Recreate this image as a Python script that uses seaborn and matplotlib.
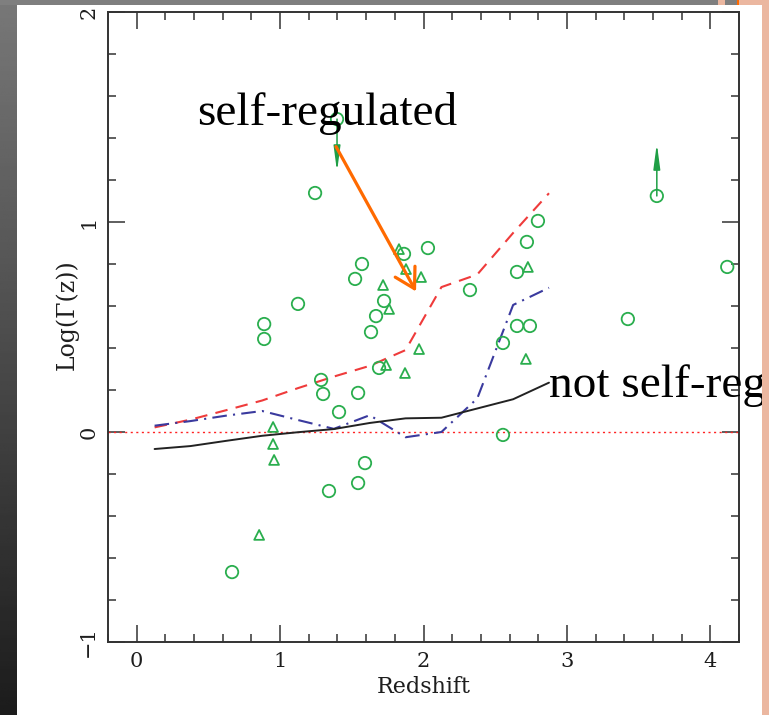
import matplotlib
matplotlib.use("Agg")
import numpy as np
import pandas as pd
import matplotlib.pyplot as plt
from matplotlib.patches import Rectangle
from matplotlib.ticker import MultipleLocator
import seaborn as sns

# Model tracks sampled on a regular redshift grid
z_model = [0.125, 0.375, 0.625, 0.875, 1.125, 1.375, 1.625, 1.875, 2.125, 2.375, 2.625, 2.875]
gamma_selfreg = [0.022, 0.059, 0.104, 0.150, 0.209, 0.264, 0.315, 0.390, 0.690, 0.750, 0.948, 1.137]
gamma_mixed = [0.030, 0.052, 0.078, 0.100, 0.057, 0.015, 0.080, -0.025, 0.000, 0.160, 0.605, 0.687]
gamma_noreg = [-0.081, -0.067, -0.042, -0.018, -0.001, 0.014, 0.043, 0.065, 0.068, 0.112, 0.156, 0.235]

# Observed sources (circles)
circle_z = [0.665, 0.889, 0.889, 1.125, 1.244, 1.286, 1.300, 1.341, 1.411, 1.523,
            1.544, 1.544, 1.571, 1.592, 1.634, 1.669, 1.690, 1.725, 1.864, 2.031,
            2.324, 2.554, 2.554, 2.652, 2.652, 2.721, 2.742, 2.798, 3.425, 4.118]
circle_g = [-0.667, 0.514, 0.443, 0.610, 1.138, 0.248, 0.181, -0.281, 0.095, 0.729,
            -0.243, 0.186, 0.800, -0.148, 0.476, 0.552, 0.305, 0.624, 0.848, 0.876,
            0.676, 0.424, -0.014, 0.762, 0.505, 0.905, 0.505, 1.005, 0.538, 0.786]

# Observed sources (triangles)
tri_z = [0.854, 0.951, 0.951, 0.958, 1.718, 1.739, 1.760, 1.829, 1.871, 1.878, 1.969, 1.983, 2.714, 2.728]
tri_g = [-0.490, 0.024, -0.057, -0.133, 0.700, 0.319, 0.586, 0.871, 0.281, 0.776, 0.395, 0.738, 0.348, 0.786]

# Limits
upper_z, upper_g = [1.397], [1.490]
lower_z, lower_g = [3.627], [1.124]
limit_len = 0.25

x_ticks = [0, 1, 2, 3, 4]
y_ticks = [-1, 0, 1, 2]
y_tick_labels = ["\u22121", "0", "1", "2"]

GREEN = "#2aae4e"
RED = "#ef3b3b"
BLUE = "#3a3a9e"
ORANGE = "#ff6a00"
SALMON = "#ebb7a0"

sns.set_style("ticks")
plt.rcParams["font.family"] = ["DejaVu Serif"]

W, H = 769, 715
fig = plt.figure(figsize=(W / 100, H / 100), dpi=100)
fig.patch.set_facecolor("white")

# Slide backdrop: dark gradient strip on the left, grey band on top
bg = fig.add_axes([0, 0, 1, 1], zorder=-10)
bg.set_xlim(0, W)
bg.set_ylim(H, 0)
bg.axis("off")
grad = np.linspace(0.47, 0.11, 256).reshape(-1, 1)
bg.imshow(grad, cmap="gray", vmin=0, vmax=1, extent=[0, 17, H, 0], aspect="auto")
bg.add_patch(Rectangle((0, 0), 718, 5, color="#7f7f7f", lw=0))
bg.add_patch(Rectangle((718, 0), 7, 5, color=SALMON, lw=0))
bg.add_patch(Rectangle((725, 0), 12, 5, color="#7f7f7f", lw=0))
bg.add_patch(Rectangle((737, 0), 2, 5, color=ORANGE, lw=0))
bg.add_patch(Rectangle((739, 0), 30, 5, color=SALMON, lw=0))

ax = fig.add_axes([108 / W, 1 - 642 / H, (739 - 108) / W, (642 - 12) / H])
ax.set_facecolor("white")

ax.axhline(0, color="#ff2222", lw=1.0, linestyle=(0, (1.5, 2.5)), zorder=1)

sns.lineplot(x=z_model, y=gamma_selfreg, ax=ax, color=RED, lw=1.5,
             linestyle=(0, (6, 4)), zorder=2)
sns.lineplot(x=z_model, y=gamma_mixed, ax=ax, color=BLUE, lw=1.5,
             linestyle=(0, (7, 3, 1, 3)), zorder=2)
sns.lineplot(x=z_model, y=gamma_noreg, ax=ax, color="#222222", lw=1.4, zorder=2)

sns.scatterplot(x=circle_z + upper_z + lower_z, y=circle_g + upper_g + lower_g, ax=ax,
                marker="o", s=80, facecolor="none", edgecolor=GREEN, linewidth=1.3, zorder=3)
sns.scatterplot(x=tri_z, y=tri_g, ax=ax, marker="^", s=50,
                facecolor="none", edgecolor=GREEN, linewidth=1.3, zorder=3)

# Limit arrows
limit_arrow = dict(arrowstyle="-|>,head_length=1.5,head_width=0.2",
                   mutation_scale=10, color="#1f9e45", lw=1.1,
                   shrinkA=0, shrinkB=0)
for zz, gg in zip(upper_z, upper_g):
    ax.annotate("", xy=(zz, gg - limit_len), xytext=(zz, gg),
                arrowprops=limit_arrow, zorder=4)
for zz, gg in zip(lower_z, lower_g):
    ax.annotate("", xy=(zz, gg + limit_len), xytext=(zz, gg),
                arrowprops=limit_arrow, zorder=4)

ax.set_xlim(-0.2, 4.2)
ax.set_ylim(-1, 2)
ax.set_xticks(x_ticks)
ax.set_yticks(y_ticks)
ax.set_yticklabels(y_tick_labels, rotation=90, va="center")
ax.xaxis.set_minor_locator(MultipleLocator(0.2))
ax.yaxis.set_minor_locator(MultipleLocator(0.2))
ax.tick_params(which="both", direction="in", top=True, right=True,
               color="#333333", width=1.1, labelsize=15, labelcolor="#1e1e1e")
ax.tick_params(which="major", length=12.5, pad=7)
ax.tick_params(which="minor", length=6)
for sp in ax.spines.values():
    sp.set_linewidth(1.4)
    sp.set_color("#333333")

ax.set_xlabel("Redshift", fontsize=16, color="#1e1e1e", labelpad=4)
ax.set_ylabel("Log(\u0393(z))", fontsize=17, color="#1e1e1e")
ax.yaxis.set_label_coords(-0.046, 0.52)

# Annotations
ax.annotate("", xy=(1.948, 0.669), xytext=(1.39, 1.359),
            arrowprops=dict(arrowstyle="->,head_length=1.0,head_width=0.58",
                            mutation_scale=14, color=ORANGE, lw=2.3,
                            shrinkA=0, shrinkB=0), zorder=5)
ax.text(0.4216, 1.462, "self-regulated", fontsize=34, family=["Liberation Serif"],
        ha="left", va="baseline", color="black", zorder=6)
ax.text(2.875, 0.167, "not self-reg", fontsize=34, family=["Liberation Serif"],
        ha="left", va="baseline", color="black", zorder=6, clip_on=False)

# Salmon edge on the right, above everything
fig.add_artist(Rectangle((762 / W, 0), 7 / W, 1, transform=fig.transFigure,
                         color=SALMON, lw=0, zorder=20))

fig.savefig("out.png", dpi=100)
